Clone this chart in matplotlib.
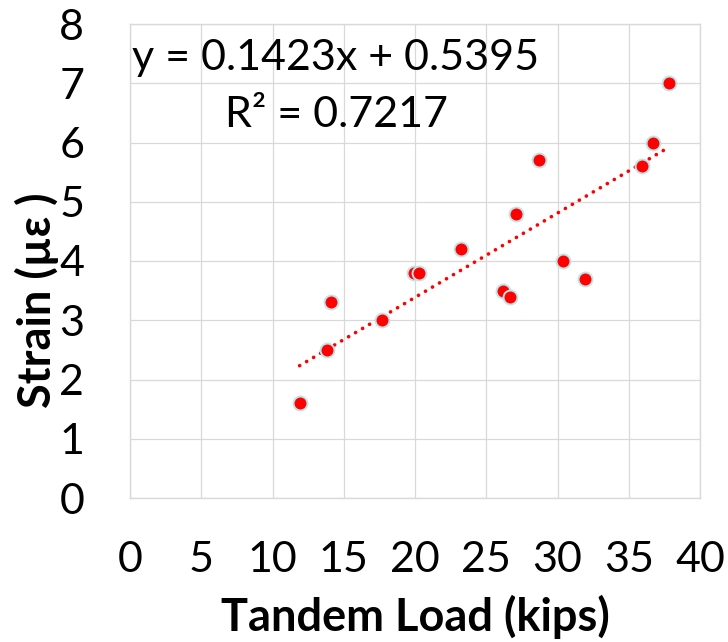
import matplotlib
matplotlib.use("Agg")
import matplotlib.pyplot as plt
import numpy as np

# Data
load_kips = [11.9, 13.8, 14.1, 17.7, 19.9, 20.3, 23.2, 26.2, 26.7, 27.1, 28.7, 30.4, 31.9, 35.9, 36.7, 37.8]
strain_ue = [1.6, 2.5, 3.3, 3.0, 3.8, 3.8, 4.2, 3.5, 3.4, 4.8, 5.7, 4.0, 3.7, 5.6, 6.0, 7.0]
slope = 0.1423
intercept = 0.5395
r_squared = 0.7217
x_ticks = [0, 5, 10, 15, 20, 25, 30, 35, 40]
y_ticks = [0, 1, 2, 3, 4, 5, 6, 7, 8]

plt.rcParams['font.family'] = ['Lato', 'DejaVu Sans']

W, H = 728, 642
fig = plt.figure(figsize=(W / 100, H / 100), dpi=100)
ax = fig.add_axes([130 / W, 1 - 498 / H, (700 - 130) / W, (498 - 24) / H])

grid_c = '#D9D9D9'
ax.set_xlim(0, 40)
ax.set_ylim(0, 8)
ax.set_xticks(x_ticks)
ax.set_yticks(y_ticks)
ax.grid(True, color=grid_c, linewidth=0.9)
ax.set_axisbelow(True)
for s in ax.spines.values():
    s.set_color(grid_c)
    s.set_linewidth(1.0)
ax.tick_params(axis='both', length=0, labelsize=31, colors='black')
ax.tick_params(axis='y', pad=33)
ax.tick_params(axis='x', pad=31)

# trendline
xs = np.array([min(load_kips), max(load_kips)])
ax.plot(xs, slope * xs + intercept, color='#FF0000', linewidth=2.6,
        linestyle=(0, (0.05, 2.2)), dash_capstyle='round', zorder=2)

ax.scatter(load_kips, strain_ue, s=100, color='#FF0000', edgecolor='#BFE3E6',
           linewidth=1.4, zorder=3)

ax.text(14.46, 7.224, f"y = {slope:.4f}x + {intercept:.4f}",
        ha='center', va='baseline', fontsize=31, zorder=4)
ax.text(14.5, 6.262, f"R² = {r_squared:.4f}",
        ha='center', va='baseline', fontsize=31, zorder=4)

ax.set_xlabel('Tandem Load (kips)', fontsize=32.5, fontweight='bold', labelpad=11)
ax.set_ylabel('Strain (µε )', fontsize=32.5, fontweight='bold')
ax.yaxis.set_label_coords(-0.125, 0.418)

fig.savefig('out.png', dpi=100)
